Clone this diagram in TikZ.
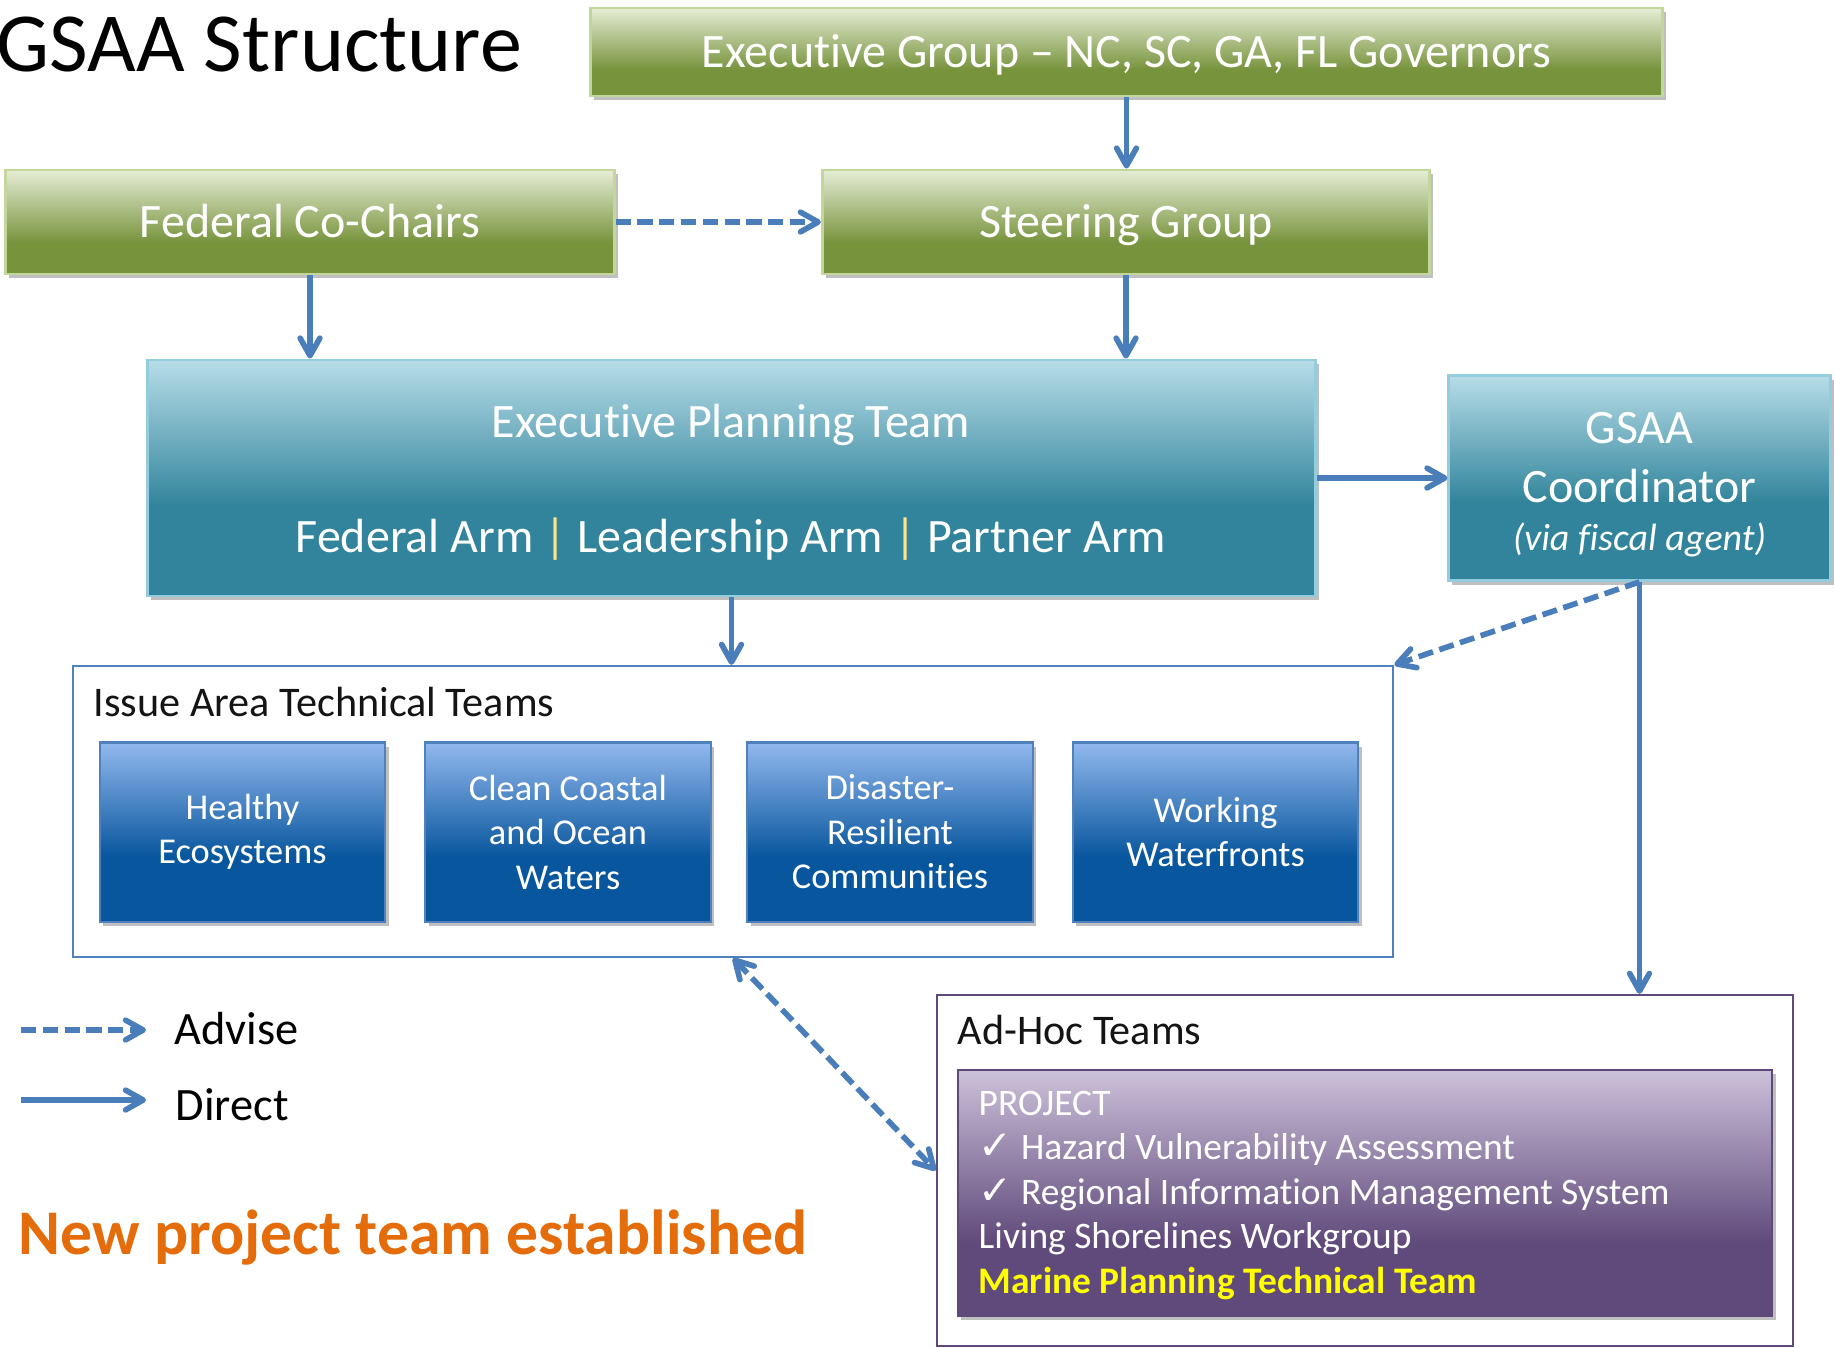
\documentclass[tikz,border=0pt]{standalone}
\usepackage{fontspec}
\setmainfont{Carlito}[Ligatures={TeX,NoCommon}]
\newfontfamily\symfont{DejaVu Sans}
\usetikzlibrary{arrows.meta,shadows}
%% colours
\definecolor{grnD}{HTML}{77933C}
\definecolor{grnL}{HTML}{E6EDD6}
\definecolor{grnB}{HTML}{C3D69B}
\definecolor{tealD}{HTML}{31849B}
\definecolor{tealL}{HTML}{B7DDE8}
\definecolor{tealB}{HTML}{93CDDD}
\definecolor{bluD}{HTML}{08569D}
\definecolor{bluL}{HTML}{92B8EE}
\definecolor{bluB}{HTML}{4F81BD}
\definecolor{purD}{HTML}{604A7B}
\definecolor{purL}{HTML}{CCC1DA}
\definecolor{purB}{HTML}{5F497A}
\definecolor{arrowc}{HTML}{4A7EBB}
\definecolor{barc}{HTML}{FFE38A}
\definecolor{newc}{HTML}{E46C0A}
\definecolor{hilite}{HTML}{FFFF00}
\definecolor{headc}{HTML}{141414}
%% shadings
\pgfdeclareverticalshading{grnshade}{100bp}{color(0bp)=(grnD); color(40bp)=(grnD); color(75bp)=(grnL); color(100bp)=(grnL)}
\pgfdeclareverticalshading{tealshade}{100bp}{color(0bp)=(tealD); color(44bp)=(tealD); color(75bp)=(tealL); color(100bp)=(tealL)}
\pgfdeclareverticalshading{blushade}{100bp}{color(0bp)=(bluD); color(43bp)=(bluD); color(75bp)=(bluL); color(100bp)=(bluL)}
\pgfdeclareverticalshading{purshade}{100bp}{color(0bp)=(purD); color(40bp)=(purD); color(75bp)=(purL); color(100bp)=(purL)}
%% fonts
\newcommand\boxfont{\fontsize{13.65}{16.5}\selectfont}
\newcommand\legendfont{\fontsize{13.2}{16}\selectfont}
\newcommand\teamfont{\fontsize{10.35}{12.66}\selectfont}
\newcommand\projfont{\fontsize{10.65}{12.66}\selectfont}
\newcommand\headfont{\fontsize{12}{14}\selectfont}
\newcommand\fiscalfont{\fontsize{10.8}{13}\selectfont\itshape}
\newcommand\titlefont{\fontsize{23.9}{28}\selectfont}
\newcommand\newteamfont{\fontsize{18.1}{21}\selectfont\bfseries}
\newcommand\chk{{\symfont\fontsize{11.5}{12}\selectfont ✓}}
\begin{document}
\begin{tikzpicture}
[x=0.01cm,y=-0.01cm,
  boxdecorate/.style={shape=rectangle,inner sep=0pt,text=white,align=center,
    drop shadow={shadow xshift=1pt,shadow yshift=-1.2pt,opacity=0.25,fill=black}},
  greenbox/.style={boxdecorate,shading=grnshade,draw=grnB,line width=0.8pt,
    font=\boxfont,text height=8.8pt,text depth=0pt},
  tealbox/.style={boxdecorate,shading=tealshade,draw=tealB,line width=0.8pt},
  teambox/.style={boxdecorate,shading=blushade,draw=bluB,line width=0.6pt,
    minimum width=2.85cm,minimum height=1.79cm,font=\teamfont},
  projbox/.style={boxdecorate,shading=purshade,draw=purB,line width=0.6pt},
  groupbox/.style={shape=rectangle,inner sep=0pt,fill=white,line width=0.6pt},
  textdecorate/.style={anchor=base,inner sep=0pt,text=white,font=\boxfont},
  directline/.style={draw=arrowc,line width=1.6pt,-{Straight Barb[length=5pt,width=5.6pt,round]}},
  adviseline/.style={directline,dash pattern=on 4.3pt off 1.9pt},
  adviseboth/.style={adviseline,{Straight Barb[length=5pt,width=5.6pt,round]}-{Straight Barb[length=5pt,width=5.6pt,round]}}]
\useasboundingbox (0,0) rectangle (1835,1347);
%% title and note
\node (title) at (-4,71) [anchor=base west,inner sep=0pt,font=\titlefont] {GSAA Structure};
\node (newteam) at (18,1254) [anchor=base west,inner sep=0pt,font=\newteamfont,text=newc] {New project team established};
%% green boxes
\node (execgroup) at (1126.5,52) [greenbox,minimum width=10.71cm,minimum height=0.88cm] {Executive Group – NC, SC, GA, FL Governors};
\node (cochairs) at (310,222) [greenbox,minimum width=6.08cm,minimum height=1.04cm] {Federal Co-Chairs};
\node (steering) at (1126,222) [greenbox,minimum width=6.07cm,minimum height=1.04cm] {Steering Group};
%% planning team and coordinator
\node (ept) at (731.5,478) [tealbox,minimum width=11.67cm,minimum height=2.36cm] {};
\node (epttitle) at (731,437) [textdecorate] {Executive Planning Team};
\node (eptarms) at (731,552) [textdecorate] {Federal Arm \textcolor{barc}{|} Leadership Arm \textcolor{barc}{|} Partner Arm};
\node (coord) at (1639.5,478) [tealbox,minimum width=3.81cm,minimum height=2.05cm] {};
\node (coordname) at (1639.5,443) [textdecorate] {GSAA};
\node (coordrole) at (1639.5,502) [textdecorate] {Coordinator};
\node (coordvia) at (1639.5,550) [textdecorate,font=\fiscalfont] {(via fiscal agent)};
%% issue area teams
\node (issue) at (733,811.5) [groupbox,draw=bluB,minimum width=13.2cm,minimum height=2.91cm] {};
\node (issuehead) at (93,716) [anchor=base west,inner sep=0pt,font=\headfont,text=headc] {Issue Area Technical Teams};
\foreach \nodename/\x/\txt in {
  healthy/242.5/{Healthy\\Ecosystems}, clean/568/{Clean Coastal\\and Ocean\\Waters},
  disaster/890/{Disaster-\\Resilient\\Communities}, working/1215.5/{Working\\Waterfronts}} {
  \node (\nodename) at (\x,832) [teambox] {\txt};
}
%% ad-hoc teams
\node (adhoc) at (1365,1170.5) [groupbox,draw=purB,minimum width=8.56cm,minimum height=3.51cm] {};
\node (adhochead) at (957,1044) [anchor=base west,inner sep=0pt,font=\headfont,text=headc] {Ad-Hoc Teams};
\node (project) at (1365,1193) [projbox,minimum width=8.14cm,minimum height=2.46cm] {};
\foreach \nodename/\y/\txt in {
  proj1/1115/{PROJECT}, proj2/1159.5/{\chk\ Hazard Vulnerability Assessment},
  proj3/1204/{\chk\ Regional Information Management System},
  proj4/1248.5/{Living Shorelines Workgroup},
  proj5/1293/{\textcolor{hilite}{\bfseries Marine Planning Technical Team}}} {
  \node (\nodename) at (978,\y) [anchor=base west,inner sep=0pt,text=white,font=\projfont] {\txt};
}
%% legend
\coordinate (adv1) at (21,1030);
\coordinate (adv2) at (146,1030);
\coordinate (dir1) at (21,1100);
\coordinate (dir2) at (146,1100);
\node (advtext) at (174,1044) [anchor=base west,inner sep=0pt,font=\legendfont] {Advise};
\node (dirtext) at (175,1120) [anchor=base west,inner sep=0pt,font=\legendfont] {Direct};
%% edges or lines
\draw[adviseline] (adv1) -- (adv2);
\draw[directline] (dir1) -- (dir2);
\draw[directline] (execgroup.south) -- (execgroup.south |- steering.north);
\draw[adviseline] (cochairs.east) -- (steering.west);
\draw[directline] (cochairs.south) -- (cochairs.south |- ept.north);
\draw[directline] (steering.south) -- (steering.south |- ept.north);
\draw[directline] (ept.east) -- (coord.west);
\draw[directline] (ept.south) -- (ept.south |- issue.north);
\draw[adviseline] (coord.south) -- (issue.north east);
\draw[directline] (coord.south) -- (coord.south |- adhoc.north);
\draw[adviseboth] (issue.south) -- (adhoc.west);
\end{tikzpicture}
\end{document}
